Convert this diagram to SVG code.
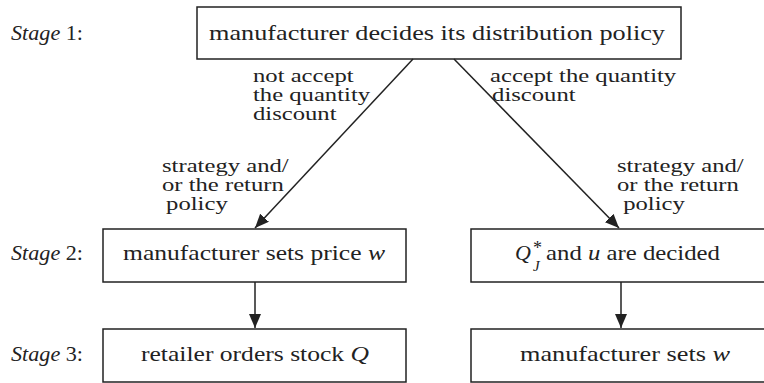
<svg xmlns="http://www.w3.org/2000/svg" width="764" height="383" viewBox="0 0 764 383">
<style>
.box{fill:#fff;stroke:#222;stroke-width:1.5}
.t{font-family:"Liberation Serif","Times New Roman",serif;font-size:22px;fill:#222}
.l{font-family:"Liberation Serif","Times New Roman",serif;font-size:18px;fill:#222}
.i{font-style:italic}
.edge{stroke:#222;stroke-width:1.5;fill:none;marker-end:url(#ah)}
</style>
<defs>
<marker id="ah" markerUnits="userSpaceOnUse" markerWidth="14" markerHeight="12" viewBox="0 0 14 12" refX="14" refY="6" orient="auto">
<path d="M0,0 L14,6 L0,12 z" fill="#222"/>
</marker>
</defs>
<g id="stage-labels">
<text class="t" x="11" y="40" textLength="72" lengthAdjust="spacingAndGlyphs"><tspan class="i">Stage</tspan> 1:</text>
<text class="t" x="11" y="260" textLength="72" lengthAdjust="spacingAndGlyphs"><tspan class="i">Stage</tspan> 2:</text>
<text class="t" x="11" y="361" textLength="72" lengthAdjust="spacingAndGlyphs"><tspan class="i">Stage</tspan> 3:</text>
</g>
<g id="n-policy">
<rect class="box" x="197" y="7" width="484" height="52"/>
<text class="t" x="209" y="40" textLength="456" lengthAdjust="spacingAndGlyphs">manufacturer decides its distribution policy</text>
</g>
<g id="n-price">
<rect class="box" x="103" y="229" width="303" height="53"/>
<text class="t" x="123" y="260" textLength="262" lengthAdjust="spacingAndGlyphs">manufacturer sets price <tspan class="i">w</tspan></text>
</g>
<g id="n-decided">
<rect class="box" x="471" y="229" width="300" height="53"/>
<text class="t" x="515" y="260"><tspan class="i">Q</tspan><tspan x="533" y="254" font-size="18">*</tspan><tspan class="i" x="533" y="271" font-size="15">J</tspan></text>
<text class="t" x="546" y="260" textLength="174" lengthAdjust="spacingAndGlyphs">and <tspan class="i">u</tspan> are decided</text>
</g>
<g id="n-stock">
<rect class="box" x="103" y="329" width="303" height="53"/>
<text class="t" x="141" y="361" textLength="228" lengthAdjust="spacingAndGlyphs">retailer orders stock <tspan class="i">Q</tspan></text>
</g>
<g id="n-setsw">
<rect class="box" x="471" y="329" width="300" height="53"/>
<text class="t" x="520" y="361" textLength="210" lengthAdjust="spacingAndGlyphs">manufacturer sets <tspan class="i">w</tspan></text>
</g>
<g id="connectors">
<line class="edge" x1="413" y1="59" x2="255" y2="228"/>
<line class="edge" x1="454" y1="59" x2="619" y2="228"/>
<line class="edge" x1="255" y1="282" x2="255" y2="328"/>
<line class="edge" x1="621" y1="282" x2="621" y2="328"/>
</g>
<g id="connector-labels">
<text class="l" transform="translate(253,0) scale(1.37,1)"><tspan x="0" y="82">not accept</tspan><tspan x="0" y="101">the quantity</tspan><tspan x="0" y="120">discount</tspan></text>
<text class="l" transform="translate(490,0) scale(1.37,1)"><tspan x="0" y="82">accept the quantity</tspan><tspan x="1.5" y="101">discount</tspan></text>
<text class="l" transform="translate(162,0) scale(1.37,1)"><tspan x="0" y="172">strategy and/</tspan><tspan x="0" y="191">or the return</tspan><tspan x="3" y="210">policy</tspan></text>
<text class="l" transform="translate(617,0) scale(1.37,1)"><tspan x="0" y="172">strategy and/</tspan><tspan x="0" y="191">or the return</tspan><tspan x="4.5" y="210">policy</tspan></text>
</g>
</svg>
